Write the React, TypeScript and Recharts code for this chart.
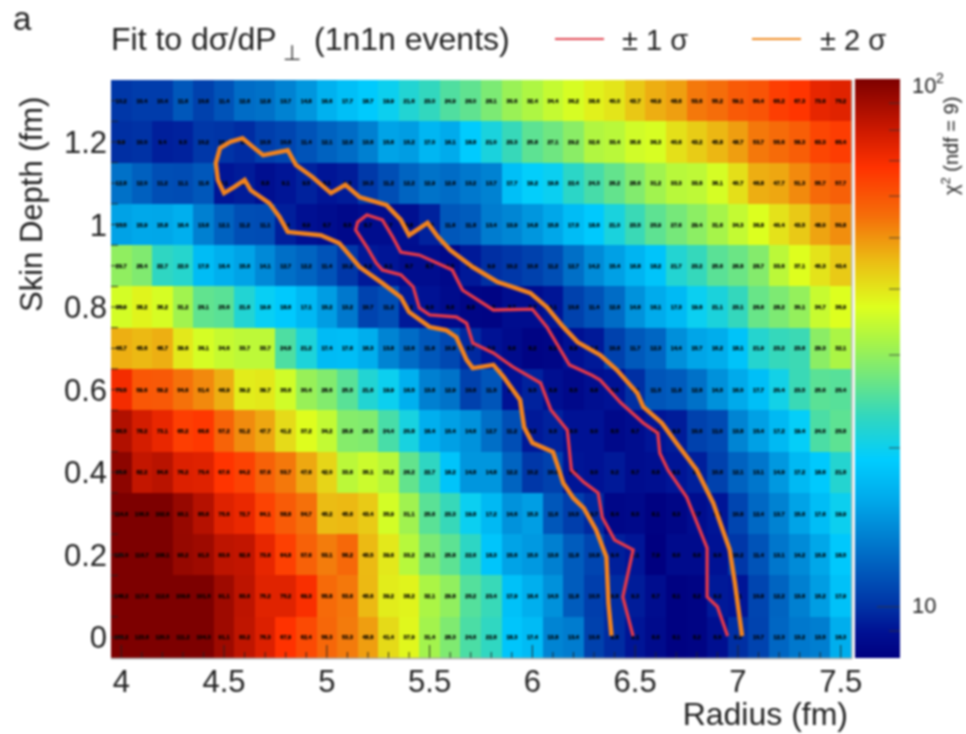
import React from "react";
import { BarChart, Bar, ScatterChart, Scatter, XAxis, YAxis } from "recharts";

const FONT = '"Liberation Sans", Arial, sans-serif';

// chi2 per cell, one list per skin depth, radius 4.0 -> 7.5 in steps of 0.1
const row130 = [10.2, 10.4, 10.4, 11.6, 10.6, 11.4, 12.6, 12.8, 13.7, 14.8, 16.6, 17.7, 18.7, 19.9, 21.6, 23.0, 24.9, 26.0, 28.1, 30.6, 32.4, 34.4, 36.2, 38.6, 40.0, 43.7, 46.9, 48.6, 53.6, 55.2, 59.1, 60.4, 65.2, 67.3, 73.6, 75.2];
const row120 = [9.9, 10.0, 9.4, 9.5, 10.2, 10.1, 9.8, 10.5, 10.8, 11.4, 12.1, 12.6, 13.6, 15.6, 15.2, 17.0, 16.1, 18.8, 21.0, 23.3, 25.8, 27.1, 29.2, 32.6, 33.4, 35.6, 36.3, 40.6, 43.2, 45.8, 48.7, 53.7, 55.6, 58.3, 63.3, 65.4];
const row110 = [12.8, 12.0, 11.2, 11.1, 11.6, 9.1, 9.3, 8.8, 9.1, 9.5, 9.1, 9.3, 10.3, 11.2, 12.2, 12.9, 12.6, 13.2, 13.7, 17.7, 19.2, 19.8, 22.4, 24.3, 26.2, 28.6, 31.2, 33.3, 33.8, 36.1, 40.7, 46.8, 47.7, 51.3, 55.7, 57.7];
const row100 = [15.5, 15.9, 15.8, 16.4, 13.6, 12.1, 11.2, 11.1, 9.4, 8.9, 8.7, 8.5, 8.7, 8.7, 8.8, 9.5, 11.6, 11.8, 13.4, 13.9, 14.8, 15.8, 17.5, 18.6, 21.0, 23.5, 25.9, 27.6, 29.4, 31.6, 34.3, 36.8, 40.4, 43.5, 48.0, 50.8];
const row090 = [29.7, 28.4, 22.7, 22.0, 17.5, 16.4, 15.6, 14.1, 12.7, 12.2, 11.4, 10.2, 9.2, 9.1, 8.7, 8.7, 8.5, 9.2, 9.9, 10.2, 10.6, 11.2, 12.7, 14.2, 15.4, 16.8, 18.2, 21.7, 23.2, 25.6, 26.8, 28.7, 33.6, 37.1, 40.3, 43.4];
const row080 = [35.9, 38.2, 36.2, 31.2, 26.1, 25.6, 21.6, 19.6, 18.6, 17.1, 15.2, 13.2, 10.7, 11.2, 9.2, 9.0, 8.6, 8.3, 8.2, 8.7, 8.7, 9.1, 10.6, 11.4, 12.6, 14.6, 16.1, 17.3, 19.8, 21.1, 23.1, 26.6, 28.2, 30.1, 34.7, 36.9];
const row070 = [46.7, 45.6, 46.7, 39.6, 36.1, 34.6, 33.7, 33.7, 24.8, 21.2, 17.4, 17.6, 16.3, 13.8, 12.6, 11.6, 10.9, 9.7, 9.0, 8.6, 8.2, 8.3, 8.9, 9.2, 10.6, 11.7, 12.3, 14.4, 15.7, 16.2, 18.1, 21.9, 23.2, 23.6, 29.3, 32.1];
const row060 = [70.5, 59.6, 59.2, 54.6, 51.4, 46.9, 39.2, 39.7, 35.6, 30.4, 28.6, 25.5, 21.6, 19.9, 16.5, 13.6, 12.9, 10.6, 11.5, 9.0, 9.5, 8.8, 8.5, 8.8, 9.0, 9.9, 11.5, 11.8, 12.8, 14.5, 16.0, 17.7, 20.4, 23.5, 25.6, 25.4];
const row050 = [86.5, 78.2, 73.1, 65.2, 66.6, 57.2, 51.2, 47.7, 41.2, 37.2, 34.2, 28.8, 28.5, 24.4, 20.8, 16.4, 15.4, 14.6, 12.7, 11.2, 9.2, 9.5, 9.0, 9.0, 8.5, 8.7, 9.1, 9.3, 10.6, 11.0, 13.8, 15.4, 17.2, 19.4, 24.6, 25.8];
const row040 = [95.6, 82.2, 84.6, 76.2, 75.4, 67.6, 64.2, 57.6, 53.7, 47.6, 42.0, 33.6, 35.1, 33.2, 26.2, 22.7, 18.2, 14.8, 14.8, 12.2, 10.2, 10.6, 9.1, 9.0, 9.2, 8.7, 8.8, 9.1, 9.4, 10.6, 12.1, 13.1, 14.9, 17.2, 18.6, 21.8];
const row030 = [114.6, 106.5, 102.6, 93.1, 85.6, 75.6, 72.7, 64.1, 58.8, 54.7, 45.2, 45.6, 43.4, 35.9, 31.1, 25.6, 23.3, 19.8, 17.2, 14.6, 15.3, 11.6, 10.5, 9.7, 8.4, 8.5, 8.1, 8.3, 8.7, 9.1, 10.8, 12.4, 13.7, 15.6, 17.6, 19.9];
const row020 = [125.0, 116.7, 108.1, 93.2, 91.3, 83.6, 82.6, 73.6, 64.8, 57.6, 53.1, 56.2, 45.5, 39.6, 33.2, 28.1, 25.8, 22.6, 18.3, 15.6, 15.0, 13.6, 11.8, 10.8, 9.4, 9.1, 7.9, 8.6, 8.6, 9.0, 10.2, 11.4, 13.1, 14.2, 15.8, 18.5];
const row010 = [148.2, 117.6, 112.6, 109.8, 101.5, 91.1, 83.6, 75.2, 75.2, 69.3, 55.8, 53.6, 45.6, 39.2, 38.2, 32.1, 29.8, 25.2, 23.4, 17.9, 16.4, 14.5, 11.8, 10.5, 9.8, 9.3, 8.7, 8.1, 8.2, 9.2, 9.1, 10.8, 12.2, 13.6, 15.2, 17.9];
const row000 = [153.2, 123.6, 120.3, 111.2, 104.3, 91.1, 83.2, 76.3, 67.9, 62.4, 56.3, 53.3, 48.8, 41.4, 37.9, 31.4, 28.3, 24.6, 22.8, 18.3, 17.4, 13.8, 13.4, 10.6, 9.8, 9.1, 8.6, 8.1, 8.2, 8.8, 9.9, 10.7, 12.3, 13.2, 13.5, 16.3];

const depths = [1.3, 1.2, 1.1, 1.0, 0.9, 0.8, 0.7, 0.6, 0.5, 0.4, 0.3, 0.2, 0.1, 0.0];
const rows = [row130, row120, row110, row100, row090, row080, row070, row060, row050, row040, row030, row020, row010, row000];
const radii = [4.0, 4.1, 4.2, 4.3, 4.4, 4.5, 4.6, 4.7, 4.8, 4.9, 5.0, 5.1, 5.2, 5.3, 5.4, 5.5, 5.6, 5.7, 5.8, 5.9, 6.0, 6.1, 6.2, 6.3, 6.4, 6.5, 6.6, 6.7, 6.8, 6.9, 7.0, 7.1, 7.2, 7.3, 7.4, 7.5];

// [radius, skin depth]
const sigma1 = [[6.49, 0.003], [6.44, 0.098], [6.49, 0.212], [6.4, 0.236], [6.34, 0.291], [6.32, 0.35], [6.25, 0.376], [6.19, 0.405], [6.17, 0.502], [6.09, 0.551], [6.04, 0.616], [5.905, 0.655], [5.81, 0.689], [5.71, 0.713], [5.68, 0.761], [5.63, 0.776], [5.5, 0.781], [5.45, 0.798], [5.42, 0.849], [5.36, 0.878], [5.27, 0.89], [5.24, 0.907], [5.195, 0.945], [5.14, 0.987], [5.15, 1.006], [5.195, 1.023], [5.27, 1.011], [5.32, 0.97], [5.36, 0.933], [5.45, 0.926], [5.61, 0.89], [5.66, 0.841], [5.81, 0.793], [6.0, 0.795], [6.07, 0.752], [6.18, 0.66], [6.29, 0.635], [6.33, 0.623], [6.43, 0.568], [6.54, 0.519], [6.61, 0.495], [6.62, 0.446], [6.66, 0.405], [6.75, 0.34], [6.85, 0.216], [6.85, 0.098], [6.9, 0.074], [6.95, 0.003]];
const sigma2 = [[6.385, 0.004], [6.37, 0.083], [6.36, 0.195], [6.31, 0.26], [6.25, 0.313], [6.2, 0.337], [6.15, 0.374], [6.13, 0.405], [6.1, 0.449], [6.0, 0.471], [5.96, 0.509], [5.94, 0.575], [5.86, 0.631], [5.81, 0.66], [5.71, 0.652], [5.68, 0.672], [5.63, 0.727], [5.58, 0.744], [5.5, 0.752], [5.4, 0.788], [5.36, 0.824], [5.27, 0.858], [5.16, 0.897], [5.06, 0.955], [4.97, 0.974], [4.81, 0.982], [4.77, 1.018], [4.72, 1.052], [4.63, 1.083], [4.6, 1.108], [4.55, 1.091], [4.5, 1.076], [4.47, 1.108], [4.46, 1.149], [4.48, 1.185], [4.53, 1.2], [4.59, 1.209], [4.64, 1.188], [4.69, 1.168], [4.81, 1.18], [4.85, 1.144], [4.93, 1.115], [5.02, 1.076], [5.09, 1.096], [5.16, 1.066], [5.29, 1.047], [5.36, 1.011], [5.4, 0.974], [5.49, 1.004], [5.54, 0.97], [5.6, 0.938], [5.71, 0.897], [5.83, 0.861], [5.99, 0.834], [6.07, 0.8], [6.15, 0.752], [6.22, 0.715], [6.33, 0.684], [6.41, 0.648], [6.51, 0.592], [6.54, 0.558], [6.63, 0.519], [6.7, 0.471], [6.8, 0.405], [6.88, 0.325], [6.96, 0.212], [6.985, 0.132], [7.02, 0.003]];

const xTicks = [4, 4.1, 4.2, 4.3, 4.4, 4.5, 4.6, 4.7, 4.8, 4.9, 5, 5.1, 5.2, 5.3, 5.4, 5.5, 5.6, 5.7, 5.8, 5.9, 6, 6.1, 6.2, 6.3, 6.4, 6.5, 6.6, 6.7, 6.8, 6.9, 7, 7.1, 7.2, 7.3, 7.4, 7.5];
const xLabels = [4, 4.5, 5, 5.5, 6, 6.5, 7, 7.5];
const yTicks = [0, 0.05, 0.1, 0.15, 0.2, 0.25, 0.3, 0.35, 0.4, 0.45, 0.5, 0.55, 0.6, 0.65, 0.7, 0.75, 0.8, 0.85, 0.9, 0.95, 1, 1.05, 1.1, 1.15, 1.2, 1.25, 1.3];
const yLabels = [0, 0.2, 0.4, 0.6, 0.8, 1, 1.2];
const scaleTicks = [9, 10, 20, 30, 40, 50, 60, 70, 80, 90];

// colour palette, chi2 -> rgb
const paletteValues = [8, 9, 10, 11.5, 13.7, 16, 19, 23, 27, 32, 37, 45, 55, 68, 80, 100];
const paletteColors = [
  [0, 0, 128], [0, 18, 148], [0, 50, 165], [0, 85, 185], [0, 130, 210], [0, 170, 235], [0, 205, 255],
  [50, 215, 190], [110, 230, 130], [170, 245, 70], [222, 255, 30], [235, 190, 20], [245, 110, 10],
  [255, 50, 0], [205, 25, 0], [125, 0, 0],
];

function colorOf(v: number) {
  const c = Math.min(100, Math.max(8, v));
  let i = 0;
  while (i < paletteValues.length - 2 && c > paletteValues[i + 1]) i++;
  const t = (Math.log(c) - Math.log(paletteValues[i])) / (Math.log(paletteValues[i + 1]) - Math.log(paletteValues[i]));
  const a = paletteColors[i];
  const b = paletteColors[i + 1];
  return `rgb(${a.map((n, k) => Math.round(n + (b[k] - n) * t)).join(",")})`;
}

const cells = rows.flatMap((row, r) => row.map((chi2, c) => ({ x: radii[c], y: depths[r], chi2 })));
const toPoints = (list: number[][]) => list.map(([x, y]) => ({ x, y }));
const scaleData = [{ name: "chi2", top: 100 }];
const scaleStops = paletteValues.map((v) => ({
  offset: `${(100 * (Math.log(100) - Math.log(v))) / (Math.log(100) - Math.log(8))}%`,
  color: colorOf(v),
}));

const PLOT_W = 740;
const PLOT_H = 578;
const CELL_W = PLOT_W / radii.length;
const CELL_H = PLOT_H / depths.length;

function HeatCell(props: any) {
  const { cx, cy, payload } = props;
  return <rect x={cx - CELL_W / 2} y={cy - CELL_H / 2} width={CELL_W + 0.6} height={CELL_H + 0.6} fill={colorOf(payload.chi2)} shapeRendering="crispEdges" />;
}

function CellLabel(props: any) {
  const { cx, cy, payload } = props;
  return (
    <text x={cx} y={cy + 2} textAnchor="middle" fontSize={5.6} fontWeight={700} fontFamily={FONT} fill="#000" stroke="#000" strokeWidth={0.25}>
      {payload.chi2.toFixed(1)}
    </text>
  );
}

function XTick(props: any) {
  const { x, y, payload } = props;
  const major = xLabels.includes(payload.value);
  return (
    <g>
      <line x1={x} x2={x} y1={y} y2={y - (major ? 13 : 6)} stroke="#222" strokeWidth={0.9} />
      {major && (
        <text x={x} y={y + 34} textAnchor="middle" fontSize={31} fontFamily={FONT} fill="#222">
          {payload.value}
        </text>
      )}
    </g>
  );
}

function YTick(props: any) {
  const { x, y, payload } = props;
  const major = yLabels.includes(payload.value);
  return (
    <g>
      <line x1={x} x2={x + (major ? 13 : 7)} y1={y} y2={y} stroke="#222" strokeWidth={0.9} />
      {major && (
        <text x={x - 4} y={y + 11} textAnchor="end" fontSize={31} fontFamily={FONT} fill="#222">
          {payload.value}
        </text>
      )}
    </g>
  );
}

function ScaleTick(props: any) {
  const { x, y, payload } = props;
  return (
    <line x1={x} x2={x - (payload.value === 10 ? 23 : 11)} y1={y} y2={y} stroke="#333" strokeWidth={0.8} />
  );
}

function Overlay() {
  return (
    <svg width={966} height={734} style={{ position: "absolute", left: 0, top: 0 }} fontFamily={FONT} fill="#222">
      <line x1={111} x2={852} y1={658.5} y2={658.5} stroke="#aaa" strokeWidth={1.5} />
      <line x1={852} x2={852} y1={80} y2={659} stroke="#bbb" strokeWidth={1.5} />
      <text x={13} y={30} fontSize={33}>a</text>
      <text x={111} y={50} fontSize={32}>Fit to dσ/dP</text>
      <text x={283} y={60} fontSize={21}>⊥</text>
      <text x={314} y={50} fontSize={32}>(1n1n events)</text>
      <line x1={555} x2={604} y1={39} y2={39} stroke="#e04550" strokeWidth={2} />
      <text x={622} y={50} fontSize={29}>± 1 σ</text>
      <line x1={752} x2={801} y1={39} y2={39} stroke="#f08a20" strokeWidth={2} />
      <text x={820} y={50} fontSize={29}>± 2 σ</text>
      <text x={848} y={725} fontSize={32} textAnchor="end">Radius (fm)</text>
      <text transform="translate(42,312) rotate(-90)" fontSize={31}>Skin Depth (fm)</text>
      <text x={912} y={93} fontSize={22}>10</text>
      <text x={936} y={83} fontSize={14}>2</text>
      <text x={912} y={613} fontSize={22}>10</text>
      <text transform="translate(958,195) rotate(-90)" fontSize={20}>
        χ<tspan dy={-8} fontSize={13}>2</tspan>
        <tspan dy={8}> (ndf = 9)</tspan>
      </text>
    </svg>
  );
}

export default function App() {
  return (
    <div style={{ position: "absolute", left: 0, top: 0, width: 966, height: 734, background: "#fff", filter: "blur(0.8px)" }}>
      <div style={{ position: "absolute", left: 0, top: 0 }}>
        <ScatterChart width={966} height={734} margin={{ top: 80, right: 115, bottom: 26, left: 51 }}>
          <Scatter data={cells} shape={HeatCell} isAnimationActive={false} />
          <Scatter data={cells} shape={CellLabel} isAnimationActive={false} />
          <Scatter data={toPoints(sigma1)} line={{ stroke: "#e2384a", strokeWidth: 3.4 }} lineType="joint" shape={() => <g />} isAnimationActive={false} />
          <Scatter data={toPoints(sigma2)} line={{ stroke: "#f0821e", strokeWidth: 4.5 }} lineType="joint" shape={() => <g />} isAnimationActive={false} />
          <XAxis type="number" dataKey="x" domain={[3.95, 7.55]} ticks={xTicks} interval={0} height={50} tickSize={0} tickMargin={0} axisLine={false} tick={XTick} />
          <YAxis type="number" dataKey="y" domain={[-0.05, 1.35]} ticks={yTicks} interval={0} width={60} tickSize={0} tickMargin={0} axisLine={false} tick={YTick} />
        </ScatterChart>
      </div>
      <div style={{ position: "absolute", left: 855, top: 79 }}>
        <BarChart width={111} height={579} data={scaleData} margin={{ top: 0, right: 0, bottom: 0, left: 0 }} barCategoryGap={0}>
          <defs>
            <linearGradient id="scaleFill" x1="0" y1="0" x2="0" y2="1">
              {[...scaleStops].reverse().map((s) => (
                <stop key={s.offset} offset={s.offset} stopColor={s.color} />
              ))}
            </linearGradient>
          </defs>
          <XAxis dataKey="name" hide />
          <YAxis orientation="right" scale="log" domain={[8, 100]} allowDataOverflow ticks={scaleTicks} interval={0} width={66} tickSize={0} tickMargin={0} axisLine={false} tick={ScaleTick} />
          <Bar dataKey="top" fill="url(#scaleFill)" isAnimationActive={false} />
        </BarChart>
      </div>
      <Overlay />
    </div>
  );
}
